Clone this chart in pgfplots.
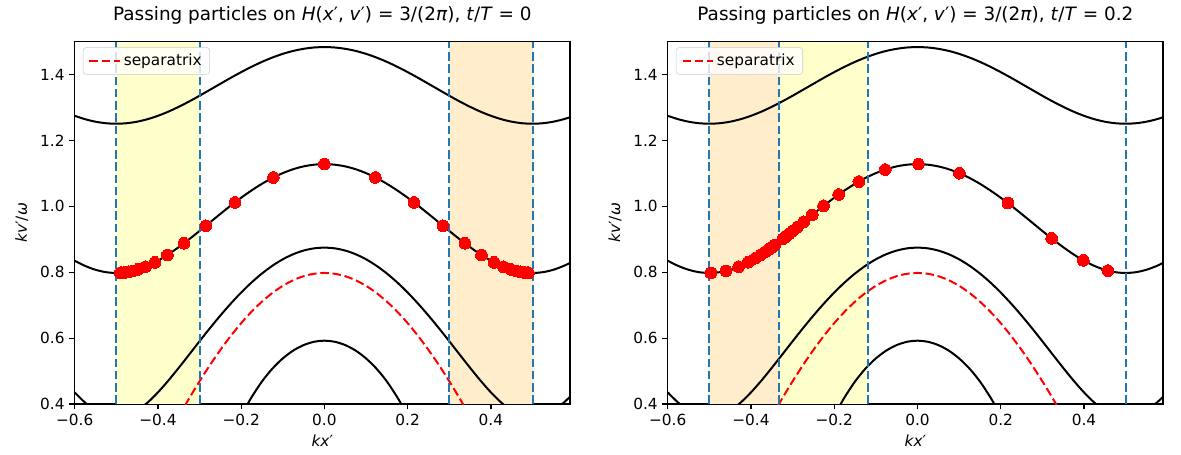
\documentclass[border=0pt]{standalone}
\usepackage{fontspec}
\setmainfont{DejaVu Sans}
\usepackage{pgfplots}
\pgfplotsset{compat=1.18}
\definecolor{tabblue}{HTML}{1F77B4}
\definecolor{shyellow}{RGB}{255,255,204}
\definecolor{shorange}{RGB}{255,237,204}
\newcommand{\fs}{\fontsize{11.5}{13.5}\selectfont}
\pgfplotsset{
  panel/.style={
    scale only axis, width=371.5pt, height=271.7pt,
    xmin=-0.6, xmax=0.59, ymin=0.4, ymax=1.5,
    xtick={-0.6,-0.4,-0.2,0,0.2,0.4},
    xticklabels={−0.6,−0.4,−0.2,0.0,0.2,0.4},
    ytick={0.4,0.6,0.8,1.0,1.2,1.4},
    yticklabels={0.4,0.6,0.8,1.0,1.2,1.4},
    tick align=outside, xtick pos=bottom, ytick pos=left,
    major tick length=4pt,
    tick style={black, line width=0.9pt},
    axis line style={line width=0.9pt},
    ticklabel style={font=\fs},
    xlabel={\textit{kx}′}, ylabel={\textit{kv}′/\textit{ω}},
    label style={font=\fs},
    ylabel style={yshift=2pt},
    title style={font=\fontsize{13.8}{16}\selectfont, at={(0.5,1)}, anchor=south, inner sep=0pt, yshift=7pt},
    legend style={at={(0.0165,0.985)}, anchor=north west, draw=black!20, rounded corners=2.5pt,
      fill=white, fill opacity=0.8, text opacity=1, font=\fs, inner xsep=4pt, inner ysep=3pt},
    legend cell align=left,
    legend image code/.code={\draw[#1] (0pt,0pt) -- (23pt,0pt);},
    curve/.style={black, line width=1.5pt, smooth, forget plot},
    vline/.style={tabblue, line width=1.5pt, dash pattern=on 6.4pt off 2.8pt, forget plot},
    sep/.style={red, line width=1.5pt, dash pattern=on 6.4pt off 2.8pt, smooth},
    dots/.style={only marks, color=red, mark=*, mark size=4.4pt, mark options={draw=red, fill=red, line width=0pt}, forget plot},
  }
}
\pgfplotstableread{
x y
-0.6 1.2751
-0.575 1.2648
-0.55 1.2572
-0.525 1.2526
-0.5 1.2510
-0.475 1.2526
-0.45 1.2572
-0.425 1.2648
-0.4 1.2751
-0.375 1.2877
-0.35 1.3024
-0.325 1.3186
-0.3 1.3360
-0.275 1.3541
-0.25 1.3723
-0.225 1.3904
-0.2 1.4077
-0.175 1.4240
-0.15 1.4389
-0.125 1.4520
-0.1 1.4632
-0.075 1.4721
-0.05 1.4785
-0.025 1.4825
0 1.4838
0.025 1.4825
0.05 1.4785
0.075 1.4721
0.1 1.4632
0.125 1.4520
0.15 1.4389
0.175 1.4240
0.2 1.4077
0.225 1.3904
0.25 1.3723
0.275 1.3541
0.3 1.3360
0.325 1.3186
0.35 1.3024
0.375 1.2877
0.4 1.2751
0.425 1.2648
0.45 1.2572
0.475 1.2526
0.5 1.2510
0.525 1.2526
0.55 1.2572
0.575 1.2648
0.59 1.2707
}\curveA
\pgfplotstableread{
x y
-0.6 0.8351
-0.575 0.8193
-0.55 0.8076
-0.525 0.8003
-0.5 0.7979
-0.475 0.8003
-0.45 0.8076
-0.425 0.8193
-0.4 0.8351
-0.375 0.8543
-0.35 0.8763
-0.325 0.9002
-0.3 0.9255
-0.275 0.9514
-0.25 0.9772
-0.225 1.0024
-0.2 1.0263
-0.175 1.0485
-0.15 1.0687
-0.125 1.0863
-0.1 1.1011
-0.075 1.1129
-0.05 1.1215
-0.025 1.1266
0 1.1284
0.025 1.1266
0.05 1.1215
0.075 1.1129
0.1 1.1011
0.125 1.0863
0.15 1.0687
0.175 1.0485
0.2 1.0263
0.225 1.0024
0.25 0.9772
0.275 0.9514
0.3 0.9255
0.325 0.9002
0.35 0.8763
0.375 0.8543
0.4 0.8351
0.425 0.8193
0.45 0.8076
0.475 0.8003
0.5 0.7979
0.525 0.8003
0.55 0.8076
0.575 0.8193
0.59 0.8284
}\curveB
\pgfplotstableread{
x y
-0.6 0.4353
-0.575 0.4042
-0.55 0.3798
-0.525 0.3642
-0.5 0.3587
-0.475 0.3642
-0.45 0.3798
-0.425 0.4042
-0.4 0.4353
-0.375 0.4711
-0.35 0.5098
-0.325 0.5500
-0.3 0.5905
-0.275 0.6303
-0.25 0.6686
-0.225 0.7048
-0.2 0.7385
-0.175 0.7691
-0.15 0.7963
-0.125 0.8198
-0.1 0.8394
-0.075 0.8548
-0.05 0.8659
-0.025 0.8726
0 0.8748
0.025 0.8726
0.05 0.8659
0.075 0.8548
0.1 0.8394
0.125 0.8198
0.15 0.7963
0.175 0.7691
0.2 0.7385
0.225 0.7048
0.25 0.6686
0.275 0.6303
0.3 0.5905
0.325 0.5500
0.35 0.5098
0.375 0.4711
0.4 0.4353
0.425 0.4042
0.45 0.3798
0.475 0.3642
0.5 0.3587
0.525 0.3642
0.55 0.3798
0.575 0.4042
0.59 0.4222
}\curveC
\pgfplotstableread{
x y
-0.2 0.3616
-0.1875 0.3927
-0.175 0.4206
-0.15 0.4685
-0.125 0.5074
-0.1 0.5384
-0.075 0.5622
-0.05 0.5789
-0.025 0.5889
0 0.5922
0.025 0.5889
0.05 0.5789
0.075 0.5622
0.1 0.5384
0.125 0.5074
0.15 0.4685
0.175 0.4206
0.1875 0.3927
0.2 0.3616
}\curveD
\pgfplotstableread{
x y
-0.35 0.3622
-0.325 0.4169
-0.3 0.4690
-0.275 0.5182
-0.25 0.5642
-0.225 0.6067
-0.2 0.6455
-0.175 0.6803
-0.15 0.7109
-0.125 0.7372
-0.1 0.7588
-0.075 0.7758
-0.05 0.7881
-0.025 0.7954
0 0.7979
0.025 0.7954
0.05 0.7881
0.075 0.7758
0.1 0.7588
0.125 0.7372
0.15 0.7109
0.175 0.6803
0.2 0.6455
0.225 0.6067
0.25 0.5642
0.275 0.5182
0.3 0.4690
0.325 0.4169
0.35 0.3622
}\sepx
\pgfplotstableread{
x y
-0.4902 0.7983
-0.4871 0.7985
-0.4829 0.7990
-0.4773 0.7999
-0.4699 0.8014
-0.4601 0.8041
-0.4472 0.8087
-0.4301 0.8167
-0.4074 0.8300
-0.3773 0.8523
-0.3375 0.8880
-0.2848 0.9412
-0.215 1.0121
-0.1225 1.0879
0 1.1284
0.1225 1.0879
0.215 1.0121
0.2848 0.9412
0.3375 0.8880
0.3773 0.8523
0.4074 0.8300
0.4301 0.8167
0.4472 0.8087
0.4601 0.8041
0.4699 0.8014
0.4773 0.7999
0.4829 0.7990
0.4871 0.7985
0.4902 0.7983
}\dotsA
\pgfplotstableread{
x y
-0.4964 0.7979
-0.4597 0.8042
-0.4299 0.8168
-0.4071 0.8302
-0.3896 0.8427
-0.3761 0.8533
-0.3656 0.8621
-0.3577 0.8691
-0.3516 0.8746
-0.3470 0.8789
-0.3435 0.8823
-0.3228 0.9024
-0.3193 0.9059
-0.3145 0.9107
-0.3082 0.9171
-0.2997 0.9258
-0.2883 0.9376
-0.2732 0.9533
-0.2529 0.9742
-0.2257 1.0017
-0.1892 1.0362
-0.1409 1.0754
-0.0775 1.1119
0.0024 1.1284
0.1008 1.1007
0.2172 1.0100
0.3222 0.9030
0.3985 0.8362
0.4572 0.8051
}\dotsB
\begin{document}
\begin{tikzpicture}
\useasboundingbox (0,0) rectangle (885.75pt,340.5pt);
\begin{axis}[panel, at={(56pt,37.5pt)}, anchor=south west,
  title={Passing particles on \textit{H}(\textit{x}′, \textit{v}′) = 3/(2\textit{π}), \textit{t}/\textit{T} = 0}]
\addplot[fill=shyellow, draw=none, forget plot] coordinates {(-0.5,1.5) (-0.3,1.5)} \closedcycle;
\addplot[fill=shorange, draw=none, forget plot] coordinates {(0.3,1.5) (0.5,1.5)} \closedcycle;
\addplot[dots] table {\dotsA};
\addplot[curve] table {\curveA};
\addplot[curve] table {\curveB};
\addplot[curve] table {\curveC};
\addplot[curve] table {\curveD};
\addplot[sep] table {\sepx};
\addlegendentry{separatrix}
\addplot[vline] coordinates {(-0.5,0.4) (-0.5,1.5)};
\addplot[vline] coordinates {(-0.3,0.4) (-0.3,1.5)};
\addplot[vline] coordinates {(0.3,0.4) (0.3,1.5)};
\addplot[vline] coordinates {(0.5,0.4) (0.5,1.5)};
\end{axis}
\begin{axis}[panel, at={(500.8pt,37.5pt)}, anchor=south west,
  title={Passing particles on \textit{H}(\textit{x}′, \textit{v}′) = 3/(2\textit{π}), \textit{t}/\textit{T} = 0.2}]
\addplot[fill=shorange, draw=none, forget plot] coordinates {(-0.5,1.5) (-0.3333,1.5)} \closedcycle;
\addplot[fill=shyellow, draw=none, forget plot] coordinates {(-0.3333,1.5) (-0.12,1.5)} \closedcycle;
\addplot[dots] table {\dotsB};
\addplot[curve] table {\curveA};
\addplot[curve] table {\curveB};
\addplot[curve] table {\curveC};
\addplot[curve] table {\curveD};
\addplot[sep] table {\sepx};
\addlegendentry{separatrix}
\addplot[vline] coordinates {(-0.5,0.4) (-0.5,1.5)};
\addplot[vline] coordinates {(-0.3333,0.4) (-0.3333,1.5)};
\addplot[vline] coordinates {(-0.12,0.4) (-0.12,1.5)};
\addplot[vline] coordinates {(0.5,0.4) (0.5,1.5)};
\end{axis}
\end{tikzpicture}
\end{document}
